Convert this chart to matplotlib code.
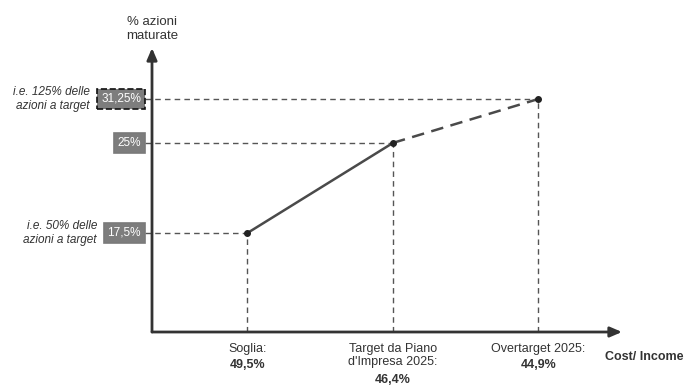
import matplotlib
matplotlib.use("Agg")
import matplotlib.pyplot as plt
import matplotlib.transforms as mtransforms

plt.rcParams["font.family"] = ["Liberation Sans", "DejaVu Sans"]

# Vesting curve: Cost/Income thresholds and share of vested shares
x_labels = ["Soglia:", "Target da Piano\nd'Impresa 2025:", "Overtarget 2025:"]
x_values = ["49,5%", "46,4%", "44,9%"]
vested_pct = [17.5, 25.0, 31.25]
vested_labels = ["17,5%", "25%", "31,25%"]
side_notes = {0: "i.e. 50% delle\nazioni a target", 2: "i.e. 125% delle\nazioni a target"}

W, H, DPI = 693, 389, 100
fig = plt.figure(figsize=(W / DPI, H / DPI), dpi=DPI)
fig.patch.set_facecolor("white")

# axes frame in pixels: y-axis at x=152, x-axis at y=332, arrow tips at (622, 48)
x0, x1, ytop, ybot = 152, 622, 48, 332
ax = fig.add_axes([x0 / W, (H - ybot) / H, (x1 - x0) / W, (ybot - ytop) / H])

# schematic (compressed) vertical scale
p = 0.85
ax.set_yscale("function", functions=(lambda v: -(abs(v) ** -p), lambda t: (-t) ** (-1 / p)))
ax.set_ylim(13.0, 43.3)
ax.set_xlim(-0.656, 2.574)
ax.axis("off")

line_col = "#4a4a4a"
text_col = "#333333"
xs = list(range(len(vested_pct)))

# axes arrows
arrow_kw = dict(arrowstyle="-|>,head_length=0.7,head_width=0.3", color="#333333", lw=2.0,
                shrinkA=0, shrinkB=0)
ax.annotate("", xy=(0, 1), xytext=(0, 0), xycoords="axes fraction", arrowprops=arrow_kw)
ax.annotate("", xy=(1, 0), xytext=(0, 0), xycoords="axes fraction", arrowprops=arrow_kw)

# curve: solid up to target, dashed to overtarget
ax.plot(xs[:2], vested_pct[:2], color=line_col, lw=1.8, solid_capstyle="round")
ax.plot(xs[1:], vested_pct[1:], color=line_col, lw=1.8, ls=(0, (5, 3)))
ax.plot(xs, vested_pct, "o", color="#222222", ms=4, zorder=5)

# guide lines to both axes
box_edge = -0.656 - 7 / 145.5
for xi, yi in zip(xs, vested_pct):
    ax.plot([box_edge, xi], [yi, yi], color="#555555", lw=1.0, ls=(0, (4, 3)), clip_on=False)
    ax.plot([xi, xi], [13.0, yi], color="#555555", lw=1.0, ls=(0, (4, 3)), clip_on=False)

# y value boxes and side notes
trans = mtransforms.blended_transform_factory(ax.transAxes, ax.transData)
bx = -11 / (x1 - x0)
note_x = {0: -55 / (x1 - x0), 2: -62 / (x1 - x0)}
for i, (yi, lab) in enumerate(zip(vested_pct, vested_labels)):
    ls = "--" if i == 2 else "-"
    ec = "#111111" if i == 2 else "#7a7a7a"
    ax.text(bx, yi, lab, transform=trans, ha="right", va="center", fontsize=8.5,
            color="white",
            bbox=dict(boxstyle="square,pad=0.32", fc="#7d7d7d", ec=ec, lw=1.2, ls=ls))
    if i in side_notes:
        ax.text(note_x[i], yi, side_notes[i], transform=trans, ha="right",
                va="center", fontsize=8.5, style="italic", color=text_col, linespacing=1.2)

# x category labels
for xi, lab, val in zip(xs, x_labels, x_values):
    ax.annotate(lab, xy=(xi, 0), xycoords=("data", "axes fraction"), xytext=(0, -8),
                textcoords="offset points", ha="center", va="top", fontsize=9,
                color=text_col, linespacing=1.08)
    nlines = lab.count("\n") + 1
    ax.annotate(val, xy=(xi, 0), xycoords=("data", "axes fraction"),
                xytext=(0, -8 - 11.2 * nlines), textcoords="offset points",
                ha="center", va="top", fontsize=9, color=text_col, fontweight="bold")

# axis titles
fig.text(152 / W, 1 - 29 / H, "% azioni\nmaturate", ha="center", va="center",
         fontsize=9.5, color=text_col, linespacing=1.2)
fig.text(605 / W, 1 - 357 / H, "Cost/ Income", ha="left", va="center",
         fontsize=9, fontweight="bold", color=text_col)

fig.savefig("out.png", dpi=DPI, facecolor="white")
